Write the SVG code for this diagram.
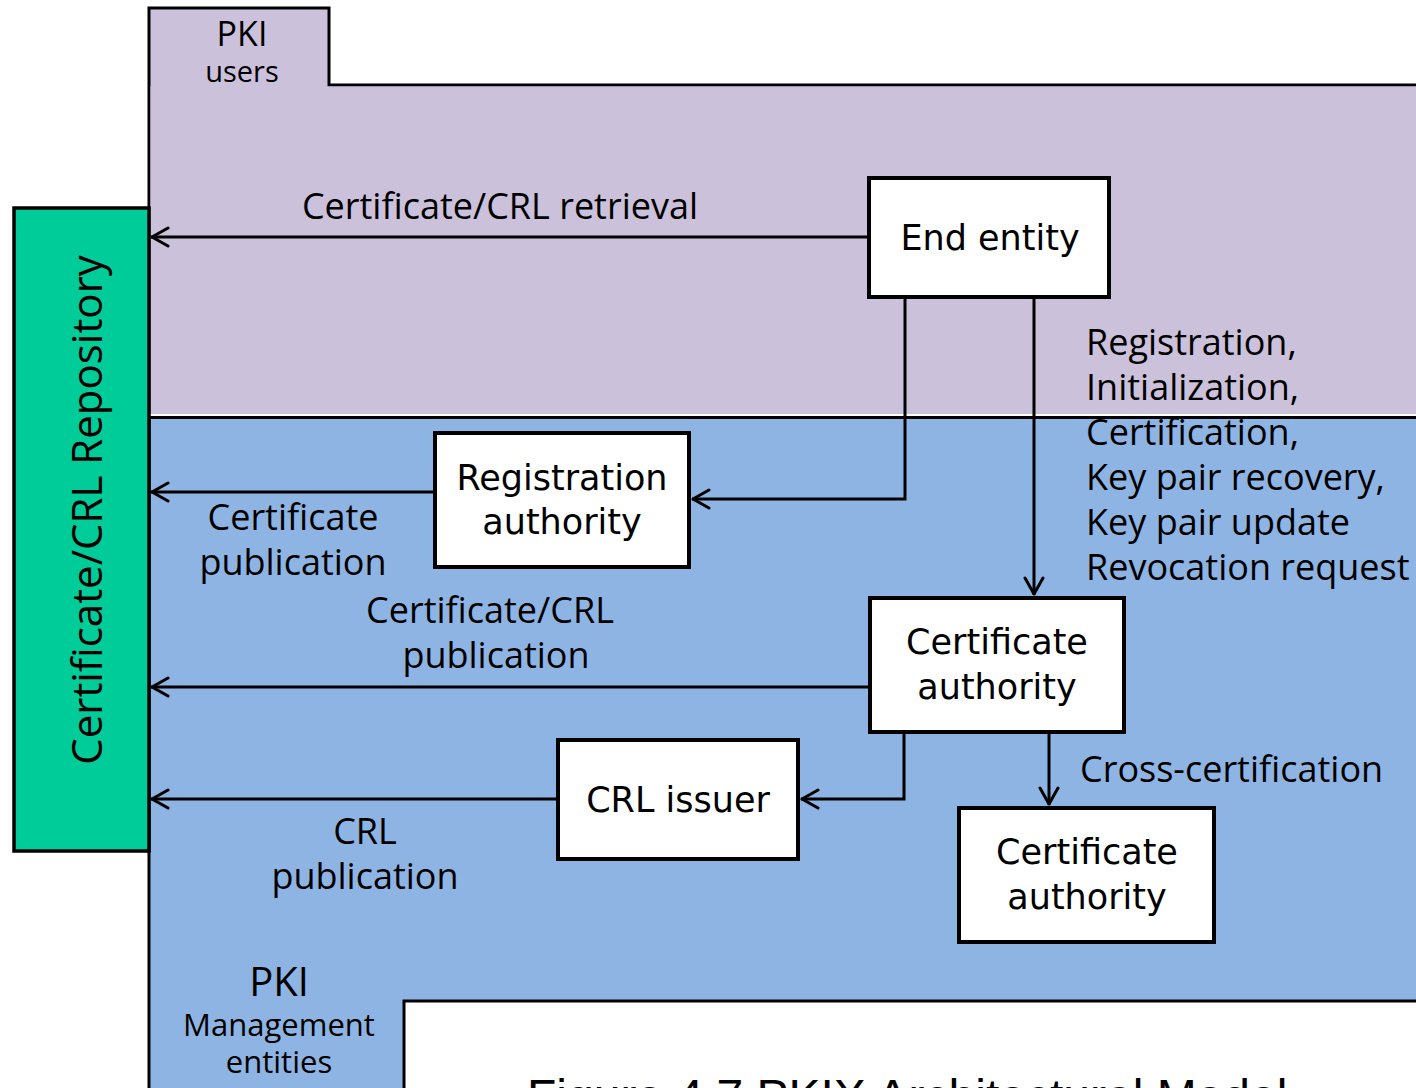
<svg xmlns="http://www.w3.org/2000/svg" width="1416" height="1088" viewBox="0 0 1416 1088">
  <style>
    .zone-users { fill: #cbc1db; stroke: #000; stroke-width: 3; }
    .zone-mgmt { fill: #8eb4e3; stroke: #000; stroke-width: 3; }
    .repo { fill: #00cc99; stroke: #000; stroke-width: 3.5; }
    .box { fill: #fff; stroke: #000; stroke-width: 4; }
    .box-text { font-family: "DejaVu Sans", "Noto Sans", sans-serif; font-size: 35px; fill: #000; text-anchor: middle; }
    .label { font-family: "Open Sans", "Noto Sans", sans-serif; font-size: 36px; fill: #000; }
    .mid { text-anchor: middle; }
    .conn { fill: none; stroke: #000; stroke-width: 3; }
    .caption { font-family: "Liberation Sans", sans-serif; font-size: 48px; fill: #000; }
  </style>
  <defs>
    <marker id="arrow" viewBox="0 0 20 22" refX="19" refY="11" markerWidth="20" markerHeight="22" markerUnits="userSpaceOnUse" orient="auto">
      <path d="M2,2 L18,11 L2,20" fill="none" stroke="#000" stroke-width="3" stroke-linecap="round" stroke-linejoin="round"/>
    </marker>
  </defs>

  <rect x="0" y="0" width="1416" height="1088" fill="#fff"/>

  <!-- PKI users zone -->
  <g id="zone-users">
    <path class="zone-users" d="M149,417 L149,8 L329,8 L329,85 L1420,85"/>
    <rect x="150.5" y="86.5" width="1270" height="328" fill="#cbc1db"/>
    <text class="label mid" x="242" y="46" style="font-size:34px">PKI</text>
    <text class="label mid" x="242" y="82" style="font-size:29px">users</text>
  </g>

  <!-- PKI management entities zone -->
  <g id="zone-mgmt">
    <line x1="149" y1="415" x2="1416" y2="415" stroke="#fff" stroke-width="2"/>
    <path class="zone-mgmt" d="M1420,417.5 L149,417.5 L149,1095 L404,1095 L404,1001 L1420,1001 Z"/>
    <text class="label mid" x="279" y="996" style="font-size:40px">PKI</text>
    <text class="label mid" x="279" y="1036" style="font-size:31px">Management</text>
    <text class="label mid" x="279" y="1073" style="font-size:31px">entities</text>
  </g>

  <!-- Certificate/CRL repository -->
  <g id="repository">
    <rect class="repo" x="14" y="208" width="135" height="643"/>
    <text class="label mid" transform="translate(102,510) rotate(-90)" style="font-size:42px">Certificate/CRL Repository</text>
  </g>

  <!-- Connectors -->
  <g id="connectors">
    <path class="conn" d="M869,237 L151,237" marker-end="url(#arrow)"/>
    <path class="conn" d="M905,297 L905,499 L692,499" marker-end="url(#arrow)"/>
    <path class="conn" d="M1034,297 L1034,595" marker-end="url(#arrow)"/>
    <path class="conn" d="M434,492 L151,492" marker-end="url(#arrow)"/>
    <path class="conn" d="M869,687 L151,687" marker-end="url(#arrow)"/>
    <path class="conn" d="M904,732 L904,799 L801,799" marker-end="url(#arrow)"/>
    <path class="conn" d="M557,799 L151,799" marker-end="url(#arrow)"/>
    <path class="conn" d="M1049,732 L1049,805" marker-end="url(#arrow)"/>

    <text class="label mid" x="500" y="219">Certificate/CRL retrieval</text>
    <text class="label" x="1086" y="355">Registration,</text>
    <text class="label" x="1086" y="400">Initialization,</text>
    <text class="label" x="1086" y="445">Certification,</text>
    <text class="label" x="1086" y="490">Key pair recovery,</text>
    <text class="label" x="1086" y="535">Key pair update</text>
    <text class="label" x="1086" y="580">Revocation request</text>
    <text class="label mid" x="293" y="530">Certificate</text>
    <text class="label mid" x="293" y="575">publication</text>
    <text class="label mid" x="490" y="623">Certificate/CRL</text>
    <text class="label mid" x="496" y="668">publication</text>
    <text class="label mid" x="365" y="844">CRL</text>
    <text class="label mid" x="365" y="889">publication</text>
    <text class="label" x="1080" y="782">Cross-certification</text>
  </g>

  <!-- Nodes -->
  <g id="end-entity">
    <rect class="box" x="869" y="178" width="240" height="119"/>
    <text class="box-text" x="990" y="250">End entity</text>
  </g>
  <g id="registration-authority">
    <rect class="box" x="435" y="433" width="254" height="134"/>
    <text class="box-text" x="562" y="490">Registration</text>
    <text class="box-text" x="562" y="534">authority</text>
  </g>
  <g id="certificate-authority">
    <rect class="box" x="870" y="598" width="254" height="134"/>
    <text class="box-text" x="997" y="654">Certificate</text>
    <text class="box-text" x="997" y="699">authority</text>
  </g>
  <g id="crl-issuer">
    <rect class="box" x="558" y="740" width="240" height="119"/>
    <text class="box-text" x="678" y="812">CRL issuer</text>
  </g>
  <g id="certificate-authority-2">
    <rect class="box" x="959" y="808" width="255" height="134"/>
    <text class="box-text" x="1087" y="864">Certificate</text>
    <text class="box-text" x="1087" y="909">authority</text>
  </g>

  <!-- Caption, mostly below the page edge -->
  <text class="caption" x="527" y="1113">Figure 4.7 PKIX Architectural Model</text>
</svg>
